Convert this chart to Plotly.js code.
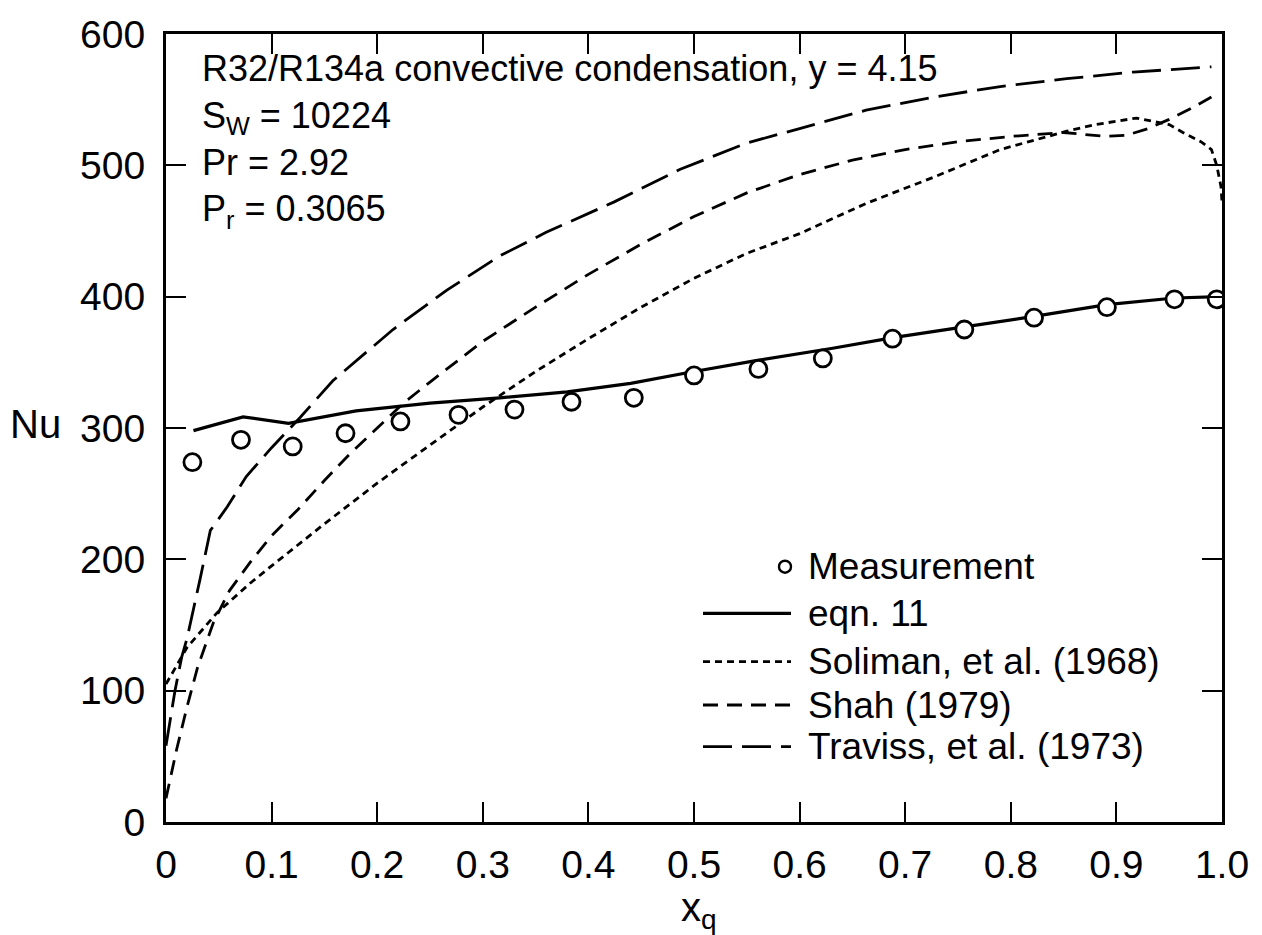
<!DOCTYPE html>
<html>
<head>
<meta charset="utf-8">
<script src="https://cdn.plot.ly/plotly-3.0.1.min.js"></script>
<style>html,body{margin:0;padding:0;background:#fff;}#chart{width:1262px;height:935px;}</style>
</head>
<body>
<div id="chart"></div>
<script>
// ---- data ----
const measX  = [0.025,0.071,0.120,0.170,0.222,0.277,0.330,0.384,0.443,0.500,0.561,0.622,0.688,0.756,0.822,0.891,0.955,0.995];
const measNu = [274,291,286,296,305,310,314,320,323,340,345,353,368,375,384,392,398,398];

const eqnX  = [0.026,0.073,0.116,0.18,0.25,0.316,0.38,0.44,0.5,0.56,0.63,0.69,0.756,0.822,0.891,0.955,0.998];
const eqnNu = [298,308.5,303.5,313,319,323,327.5,334,343,351.5,360.5,369,377,385,394,399,400];

const solimanX  = [0,0.02,0.048,0.08,0.1,0.15,0.2,0.25,0.3,0.35,0.4,0.45,0.5,0.55,0.6,0.663,0.727,0.79,0.853,0.88,0.919,0.95,0.963,0.98,0.99,0.995,0.999,1.0];
const solimanNu = [105,133,159,182,195,227,258,287,316,343,368,392,414,433,448,471,491,512,526,531,536,531,525,518,512,500,484,472];

const shahX  = [0,0.01,0.02,0.03,0.045,0.06,0.08,0.1,0.125,0.15,0.175,0.2,0.225,0.25,0.3,0.35,0.4,0.45,0.5,0.55,0.6,0.65,0.7,0.75,0.8,0.85,0.89,0.91,0.93,0.95,0.97,0.99];
const shahNu = [18,55,88,118,152,176,198,218,238,260,281,300,319,335,366,392,417,440,461,479,493,504,512,518,522,525,522,523,528,535,543,552];

const travissX  = [0,0.0085,0.015,0.02,0.032,0.042,0.058,0.076,0.1,0.127,0.158,0.215,0.266,0.316,0.36,0.424,0.487,0.55,0.6,0.663,0.727,0.79,0.853,0.916,0.99];
const travissNu = [58,100,126,140,184,222,240,263,285,308,336,375,405,431,449,472,497,517,528,542,552,560,566,571,575];

const xTickVals = [0,0.1,0.2,0.3,0.4,0.5,0.6,0.7,0.8,0.9,1.0];
const xTickText = ['0','0.1','0.2','0.3','0.4','0.5','0.6','0.7','0.8','0.9','1.0'];
const yTickVals = [0,100,200,300,400,500,600];
const yTickText = ['0','100','200','300','400','500','600'];

const legendNames = ['Measurement','eqn. 11','Soliman, et al. (1968)','Shah (1979)','Traviss, et al. (1973)'];
const infoLines = ['R32/R134a convective condensation, y = 4.15','S<sub>W</sub> = 10224','Pr = 2.92','P<sub>r</sub> = 0.3065'];

// ---- styles ----
const FONT = '"Liberation Sans", Arial, Helvetica, sans-serif';
const dashSoliman = '7px,5px';
const dashShah = '15px,9px';
const dashTraviss = '29px,10px';
const LW = 2.8;

const traces = [
  {x: travissX, y: travissNu, mode:'lines', line:{color:'#000', width:LW, dash:dashTraviss}, name:legendNames[4]},
  {x: shahX, y: shahNu, mode:'lines', line:{color:'#000', width:LW, dash:dashShah}, name:legendNames[3]},
  {x: solimanX, y: solimanNu, mode:'lines', line:{color:'#000', width:LW, dash:dashSoliman}, name:legendNames[2]},
  {x: eqnX, y: eqnNu, mode:'lines', line:{color:'#000', width:3.2}, name:legendNames[1]},
  {x: measX, y: measNu, mode:'markers', marker:{symbol:'circle', size:17, color:'#fff', line:{color:'#000', width:2.8}}, name:legendNames[0]}
];

// plot area in pixels
const L = 166, R = 40, T = 34, B = 113, W = 1262, H = 935;
const pw = W - L - R, ph = H - T - B;
const px = v => (v - L) / pw;
const py = v => (H - B - v) / ph;

// manual legend
const legRows = [566.7, 613.3, 661.7, 705, 746.7];
const legDash = [null, 'solid', dashSoliman, dashShah, dashTraviss];
const shapes = [];
const annotations = [];
shapes.push({type:'circle', xref:'paper', yref:'paper', xsizemode:'pixel', ysizemode:'pixel',
  xanchor: px(785), yanchor: py(legRows[0]), x0:-6, x1:6, y0:-6, y1:6, line:{color:'#000', width:2.4}});
for (let i = 1; i < 5; i++) {
  shapes.push({type:'line', xref:'paper', yref:'paper', x0: px(703), x1: px(791), y0: py(legRows[i]), y1: py(legRows[i]),
    line:{color:'#000', width: i===1 ? 3.2 : LW, dash: legDash[i]}});
}
for (let i = 0; i < 5; i++) {
  annotations.push({xref:'paper', yref:'paper', x: px(806), y: py(legRows[i]), xanchor:'left', yanchor:'middle',
    text: legendNames[i], showarrow:false, font:{family:FONT, size:37, color:'#000'}});
}
// info text block
annotations.push({xref:'paper', yref:'paper', x: px(200), y: py(46), xanchor:'left', yanchor:'top', align:'left',
  text: infoLines.join('<br>'), showarrow:false, font:{family:FONT, size:36, color:'#000'}});
// axis titles
annotations.push({xref:'paper', yref:'paper', x: px(8), y: py(424), xanchor:'left', yanchor:'middle',
  text:'Nu', showarrow:false, font:{family:FONT, size:40, color:'#000'}});
annotations.push({xref:'paper', yref:'paper', x: px(699), y: py(910), xanchor:'center', yanchor:'middle',
  text:'x<sub>q</sub>', showarrow:false, font:{family:FONT, size:40, color:'#000'}});

const axisCommon = {
  showgrid:false, zeroline:false, showline:true, linecolor:'#000', linewidth:3,
  mirror:'ticks', ticks:'inside', ticklen:20, tickwidth:2, tickcolor:'#000',
  tickfont:{family:FONT, size:39, color:'#000'}
};

const layout = {
  width: W, height: H,
  margin:{l:L, r:R, t:T, b:B, pad:0},
  paper_bgcolor:'#fff', plot_bgcolor:'#fff',
  showlegend:false,
  xaxis: Object.assign({}, axisCommon, {range:[0,1], tickvals:xTickVals, ticktext:xTickText, ticklabelstandoff:6}),
  yaxis: Object.assign({}, axisCommon, {range:[0,600], tickvals:yTickVals, ticktext:yTickText, ticklabelstandoff:10}),
  shapes: shapes,
  annotations: annotations
};

Plotly.newPlot('chart', traces, layout, {displayModeBar:false, staticPlot:true});
</script>
</body>
</html>
